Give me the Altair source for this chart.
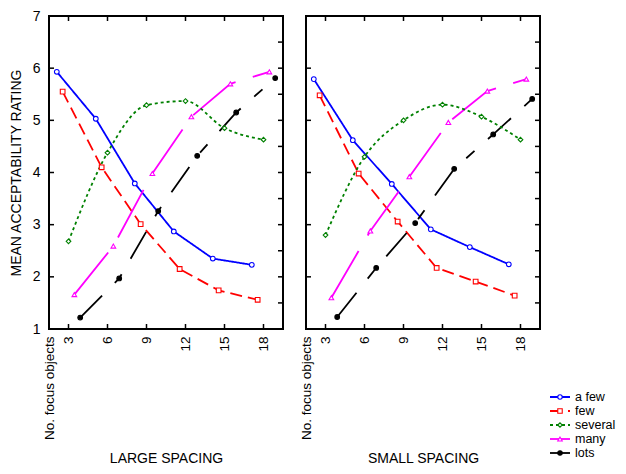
import altair as alt
import pandas as pd

FONT = "Liberation Sans"

series = ["a few", "few", "several", "many", "lots"]
colors = ["#0000ff", "#ff0000", "#008000", "#ff00ff", "#000000"]
dashes = [[1, 0], [12, 6], [3, 3], [54, 18], [31, 18, 11, 18]]
shapes = ["circle", "square", "diamond", "triangle-up", "circle"]
fills = ["white", "white", "white", "white", "black"]

# x positions (series are offset around 3, 6, ..., 18)
x_afew = [2.1, 5.1, 8.1, 11.1, 14.1, 17.1]
x_few = [2.55, 5.55, 8.55, 11.55, 14.55, 17.55]
x_several = [3.0, 6.0, 9.0, 12.0, 15.0, 18.0]
x_many = [3.45, 6.45, 9.45, 12.45, 15.45, 18.45]
x_lots = [3.9, 6.9, 9.9, 12.9, 15.9, 18.9]

# LARGE SPACING
afew_L = [5.93, 5.03, 3.79, 2.87, 2.35, 2.23]
few_L = [5.55, 4.10, 3.01, 2.15, 1.74, 1.56]
several_L = [2.68, 4.38, 5.29, 5.37, 4.85, 4.63]
many_L = [1.66, 2.59, 3.98, 5.07, 5.70, 5.93]
lots_L = [1.22, 1.97, 3.26, 4.32, 5.15, 5.81]

# SMALL SPACING
afew_S = [5.79, 4.62, 3.78, 2.91, 2.57, 2.24]
few_S = [5.48, 3.98, 3.06, 2.17, 1.91, 1.64]
several_S = [2.80, 4.30, 5.00, 5.30, 5.07, 4.63]
many_S = [1.60, 2.88, 3.92, 4.96, 5.56, 5.79]
lots_S = [1.23, 2.17, 3.03, 4.07, 4.73, 5.41]

x_tick_values = [3, 6, 9, 12, 15, 18]
x_label_values = [1.5, 3, 6, 9, 12, 15, 18]
y_label_values = [1, 2, 3, 4, 5, 6, 7]
y_left_ticks = [2, 3, 4, 5, 6]
y_right_ticks = [1.5, 2, 2.5, 3, 3.5, 4, 4.5, 5, 5.5, 6, 6.5]

xs = [x_afew, x_few, x_several, x_many, x_lots]


def build_df(vals):
    rows = []
    for name, xv, yv in zip(series, xs, vals):
        for a, b in zip(xv, yv):
            rows.append({"series": name, "x": a, "y": b})
    return pd.DataFrame(rows)


df_L = build_df([afew_L, few_L, several_L, many_L, lots_L])
df_S = build_df([afew_S, few_S, several_S, many_S, lots_S])

W, H = 234, 313
TL = 5

color_scale = alt.Scale(domain=series, range=colors)
dash_scale = alt.Scale(domain=series, range=dashes)
shape_scale = alt.Scale(domain=series, range=shapes)
fill_scale = alt.Scale(domain=series, range=fills)
xscale = alt.Scale(domain=[1.5, 19.5], nice=False, zero=False)
yscale = alt.Scale(domain=[1, 7], nice=False, zero=False)


def panel(df, title, show_y):
    xaxis = alt.Axis(
        title=title, values=x_label_values,
        labelExpr="datum.value == 1.5 ? 'No. focus objects' : datum.label",
        labelAngle=270, labelFlush=False, labelOverlap=False,
        ticks=False, domain=False, grid=False,
        labelPadding=7, titlePadding=12,
        labelFont=FONT, labelFontSize=13.5, labelColor="black",
        titleFont=FONT, titleFontSize=14, titleFontWeight="normal", titleColor="black",
    )
    if show_y:
        yaxis = alt.Axis(
            title="MEAN ACCEPTABILITY RATING", values=y_label_values,
            ticks=False, domain=False, grid=False,
            labelPadding=9, titlePadding=9,
            labelFont=FONT, labelFontSize=14, labelColor="black",
            titleFont=FONT, titleFontSize=14, titleFontWeight="normal", titleColor="black",
        )
        Y = alt.Y("y:Q", scale=yscale, axis=yaxis)
    else:
        Y = alt.Y("y:Q", scale=yscale, axis=None)
    X = alt.X("x:Q", scale=xscale, axis=xaxis)

    base = alt.Chart(df)
    col = alt.Color("series:N", scale=color_scale, legend=None)
    dash = alt.StrokeDash("series:N", scale=dash_scale, legend=None)

    lines = base.transform_filter("datum.series != 'several'").mark_line(
        strokeWidth=1.8).encode(x=X, y=Y, color=col, strokeDash=dash)
    green = base.transform_filter("datum.series == 'several'").mark_line(
        strokeWidth=1.8, interpolate="monotone").encode(x=X, y=Y, color=col, strokeDash=dash)
    pts = base.mark_point(filled=True, size=22, strokeWidth=1.1, opacity=1).encode(
        x=X, y=Y,
        shape=alt.Shape("series:N", scale=shape_scale, legend=None),
        fill=alt.Fill("series:N", scale=fill_scale, legend=None),
        stroke=alt.Stroke("series:N", scale=color_scale, legend=None),
    )

    xt = pd.DataFrame({"x": x_tick_values})
    ylt = pd.DataFrame({"y": y_left_ticks})
    yrt = pd.DataFrame({"y": y_right_ticks})
    rule = dict(color="black", strokeWidth=1.5)
    t_bottom = alt.Chart(xt).mark_rule(**rule).encode(x=X, y=alt.value(H), y2=alt.value(H - TL))
    t_top = alt.Chart(xt).mark_rule(**rule).encode(x=X, y=alt.value(0), y2=alt.value(TL))
    t_left = alt.Chart(ylt).mark_rule(**rule).encode(y=Y, x=alt.value(0), x2=alt.value(TL))
    t_right = alt.Chart(yrt).mark_rule(**rule).encode(y=Y, x=alt.value(W), x2=alt.value(W - TL))

    return alt.layer(lines, green, pts, t_bottom, t_top, t_left, t_right).properties(
        width=W, height=H,
        view=alt.ViewBackground(stroke="black", strokeWidth=2),
    )


left = panel(df_L, "LARGE SPACING", True)
right = panel(df_S, "SMALL SPACING", False)

leg_df = pd.DataFrame({"series": series})
Yleg = alt.Y("series:N", sort=series,
             scale=alt.Scale(type="point", domain=series, range=[381, 437], padding=0),
             axis=None)
leg_rule = alt.Chart(leg_df).mark_rule(strokeWidth=1.8).encode(
    x=alt.value(0), x2=alt.value(20), y=Yleg,
    color=alt.Color("series:N", scale=color_scale, legend=None),
    strokeDash=alt.StrokeDash("series:N", scale=dash_scale, legend=None),
)
leg_pts = alt.Chart(leg_df).mark_point(filled=True, size=20, strokeWidth=1.1, opacity=1).encode(
    x=alt.value(10), y=Yleg,
    shape=alt.Shape("series:N", scale=shape_scale, legend=None),
    fill=alt.Fill("series:N", scale=fill_scale, legend=None),
    stroke=alt.Stroke("series:N", scale=color_scale, legend=None),
)
leg_txt = alt.Chart(leg_df).mark_text(align="left", baseline="middle", font=FONT,
                                      fontSize=12.5, color="black").encode(
    x=alt.value(25), y=Yleg, text="series:N")
legend = alt.layer(leg_rule, leg_pts, leg_txt).properties(
    width=20, height=440, view=alt.ViewBackground(stroke="transparent"))

chart = alt.hconcat(
    alt.hconcat(left, right, spacing=13),
    legend, spacing=7,
).configure_view(strokeWidth=0).properties(padding=0)

chart.save("out.html", embed_options={"renderer": "svg", "actions": False})
